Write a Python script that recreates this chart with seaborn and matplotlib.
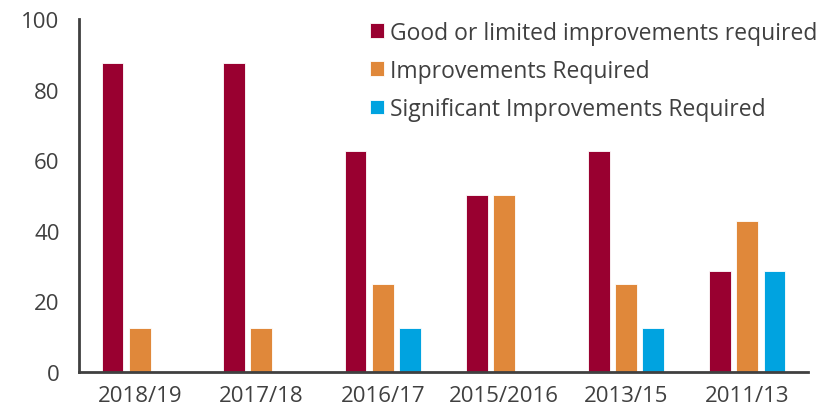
import matplotlib
matplotlib.use("Agg")
import matplotlib.pyplot as plt
import seaborn as sns
import pandas as pd

categories = ["2018/19", "2017/18", "2016/17", "2015/2016", "2013/15", "2011/13"]
good = [87.5, 87.5, 62.5, 50, 62.5, 28.6]
improve = [12.5, 12.5, 25, 50, 25, 42.9]
significant = [0, 0, 12.5, 0, 12.5, 28.6]
series = ["Good or limited improvements required", "Improvements Required",
          "Significant Improvements Required"]
colors = ["#990030", "#E0883A", "#00A3E0"]

rows = []
for name, vals in zip(series, [good, improve, significant]):
    for c, v in zip(categories, vals):
        rows.append({"cat": c, "series": name, "value": v})
df = pd.DataFrame(rows)

sns.set_style("white")
plt.rcParams['font.family'] = ['Open Sans', 'DejaVu Sans']
fig, ax = plt.subplots(figsize=(8.4, 4.14), dpi=100)
fig.subplots_adjust(left=0.094, right=0.962, top=0.952, bottom=0.099)

sns.barplot(data=df, x="cat", y="value", hue="series", palette=colors,
            width=0.67, gap=0.2, ax=ax, edgecolor="white", linewidth=0.6,
            saturation=1)

ax.set_ylim(0, 100)
ax.set_yticks([0, 20, 40, 60, 80, 100])
ax.set_xlim(-0.5, 5.5)
ax.set_xlabel("")
ax.set_ylabel("")
for s in ["top", "right"]:
    ax.spines[s].set_visible(False)
for s in ["left", "bottom"]:
    ax.spines[s].set_color("#404040")
    ax.spines[s].set_linewidth(2)
ax.tick_params(axis="both", length=0, labelsize=16, colors="#404040")
ax.tick_params(axis="y", pad=14)
ax.tick_params(axis="x", pad=9)

ax.legend_.remove()
handles, labels = ax.get_legend_handles_labels()
leg = fig.legend(handles, labels, loc="upper left", bbox_to_anchor=(0.441, 0.948),
                 frameon=False, fontsize=16.5, handlelength=0.6, handleheight=0.6,
                 handletextpad=0.25, labelspacing=0.62, borderpad=0, borderaxespad=0)
for t in leg.get_texts():
    t.set_color("#404040")

fig.savefig("out.png", dpi=100)
